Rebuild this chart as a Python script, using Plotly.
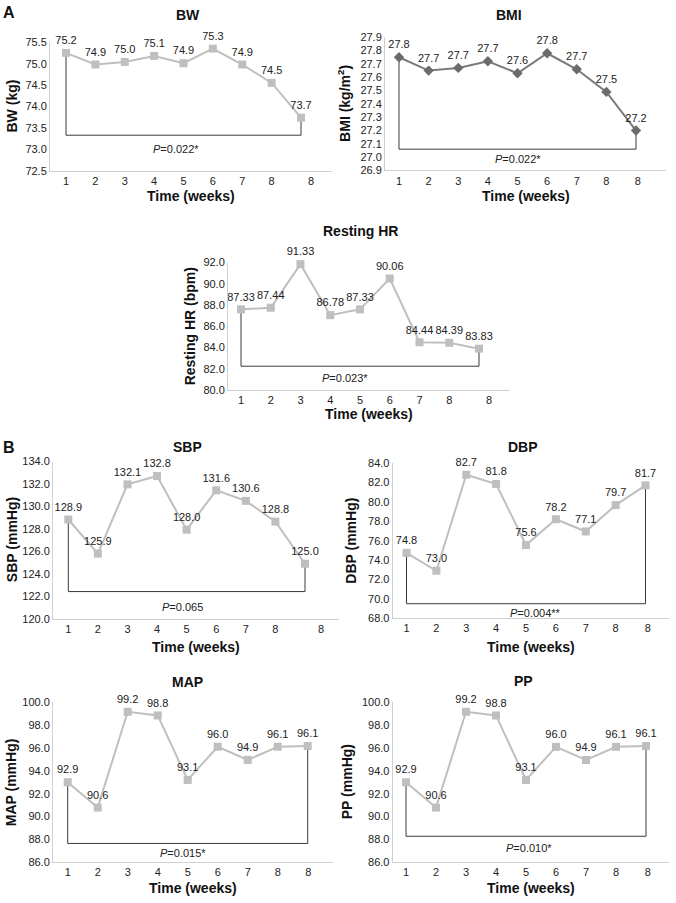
import plotly.graph_objects as go

W, H = 676, 903
FONT = "Liberation Sans, Arial, sans-serif"

# ---------------- data ----------------
weeks = ["1", "2", "3", "4", "5", "6", "7", "8", "8"]

bw_values = [75.25, 74.98, 75.04, 75.18, 75.01, 75.35, 74.98, 74.55, 73.74]
bw_labels = ["75.2", "74.9", "75.0", "75.1", "74.9", "75.3", "74.9", "74.5", "73.7"]

bmi_values = [27.75, 27.65, 27.67, 27.72, 27.63, 27.78, 27.66, 27.49, 27.20]
bmi_labels = ["27.8", "27.7", "27.7", "27.7", "27.6", "27.8", "27.7", "27.5", "27.2"]

hr_values = [87.6, 87.75, 91.85, 87.05, 87.6, 90.5, 84.5, 84.45, 83.9]
hr_labels = ["87.33", "87.44", "91.33", "86.78", "87.33", "90.06", "84.44", "84.39", "83.83"]

sbp_values = [128.84, 125.8, 131.97, 132.71, 127.93, 131.44, 130.5, 128.65, 124.9]
sbp_labels = ["128.9", "125.9", "132.1", "132.8", "128.0", "131.6", "130.6", "128.8", "125.0"]

dbp_values = [74.75, 72.9, 82.8, 81.85, 75.55, 78.21, 76.95, 79.67, 81.71]
dbp_labels = ["74.8", "73.0", "82.7", "81.8", "75.6", "78.2", "77.1", "79.7", "81.7"]

map_values = [93.0, 90.78, 99.17, 98.85, 93.2, 96.11, 94.96, 96.11, 96.17]
map_labels = ["92.9", "90.6", "99.2", "98.8", "93.1", "96.0", "94.9", "96.1", "96.1"]

pp_values = [93.0, 90.78, 99.17, 98.85, 93.2, 96.1, 94.95, 96.1, 96.17]
pp_labels = ["92.9", "90.6", "99.2", "98.8", "93.1", "96.0", "94.9", "96.1", "96.1"]

p_texts = ["0.022*", "0.022*", "0.023*", "0.065", "0.004**", "0.015*", "0.010*"]
bracket_levels = [73.33, 27.06, 82.25, 122.42, 69.5, 87.64, 88.27]

# ---------------- layout of panels (pixel boxes) ----------------
LIGHT = "#bfbfbf"
panels = [
    dict(title="BW", ytitle="BW (kg)", values=bw_values, labels=bw_labels,
         yr=(72.5, 75.5), dtick=0.5, box=(50, 332, 36.7, 167), p1=66, p9=301, lastt=311,
         titlexy=(188, 9), ytx=12, xtitle_y=193, pshift=(-8, -14),
         msym="square", mcol=LIGHT, lcol=LIGHT, msize=8),
    dict(title="BMI", ytitle="BMI (kg/m<sup>2</sup>)", values=bmi_values, labels=bmi_labels,
         yr=(26.9, 27.9), dtick=0.1, box=(385, 666, 31.7, 166.7), p1=399, p9=636, lastt=637.7,
         titlexy=(509, 9), ytx=344, xtitle_y=193, pshift=(0, -10),
         msym="diamond", mcol="#6b6b6b", lcol="#7a7a7a", msize=8),
    dict(title="Resting HR", ytitle="Resting HR (bpm)", values=hr_values, labels=hr_labels,
         yr=(80, 92), dtick=2, box=(228, 510, 260, 389.3), p1=241, p9=479, lastt=489,
         titlexy=(360, 228), ytx=190, xtitle_y=414, pshift=(-15, -12),
         msym="square", mcol=LIGHT, lcol=LIGHT, msize=8),
    dict(title="SBP", ytitle="SBP (mmHg)", values=sbp_values, labels=sbp_labels,
         yr=(120, 134), dtick=2, box=(53, 339, 461.7, 621), p1=68.3, p9=305, lastt=321,
         titlexy=(187, 447), ytx=12, xtitle_y=650, pshift=(-4, -15),
         msym="square", mcol=LIGHT, lcol=LIGHT, msize=8),
    dict(title="DBP", ytitle="DBP (mmHg)", values=dbp_values, labels=dbp_labels,
         yr=(68, 84), dtick=2, box=(392.7, 669, 463.3, 620.5), p1=406.5, p9=645.5, lastt=647.7,
         titlexy=(523, 447), ytx=351, xtitle_y=650, pshift=(9, -9),
         msym="square", mcol=LIGHT, lcol=LIGHT, msize=8),
    dict(title="MAP", ytitle="MAP (mmHg)", values=map_values, labels=map_labels,
         yr=(86, 100), dtick=2, box=(53, 333, 705.7, 867.7), p1=67.7, p9=307.7, lastt=308.3,
         titlexy=(187, 685), ytx=11, xtitle_y=894, pshift=(-5, -10),
         msym="square", mcol=LIGHT, lcol=LIGHT, msize=8),
    dict(title="PP", ytitle="PP (mmHg)", values=pp_values, labels=pp_labels,
         yr=(86, 100), dtick=2, box=(392.7, 669, 705.7, 867.7), p1=406, p9=646, lastt=647.7,
         titlexy=(523, 684), ytx=347, xtitle_y=894, pshift=(3, -12),
         msym="square", mcol=LIGHT, lcol=LIGHT, msize=8),
]

fig = go.Figure()
annotations = []
layout_axes = {}

for i, p in enumerate(panels):
    k = "" if i == 0 else str(i + 1)
    xa, ya = "x" + k, "y" + k
    left, right, top, bottom = p["box"]
    n = len(p["values"])
    unit = (p["p9"] - p["p1"]) / (n - 1)
    xr = [1 - (p["p1"] - left) / unit, 1 + (right - p["p1"]) / unit]
    xs = list(range(1, n + 1))
    tickvals = xs[:-1] + [1 + (p["lastt"] - p["p1"]) / unit]

    layout_axes["xaxis" + k] = dict(
        domain=[left / W, right / W], anchor=ya, range=xr,
        tickmode="array", tickvals=tickvals, ticktext=weeks,
        showline=True, linecolor="#d0d0d0", linewidth=1, showgrid=False,
        zeroline=False, ticks="", tickfont=dict(size=11, color="#222", family=FONT),
    )
    layout_axes["yaxis" + k] = dict(
        domain=[1 - bottom / H, 1 - top / H], anchor=xa, range=list(p["yr"]),
        tickmode="linear", tick0=p["yr"][0], dtick=p["dtick"], tickformat=".1f",
        showline=True, linecolor="#d0d0d0", linewidth=1, showgrid=False,
        zeroline=False, ticks="", tickfont=dict(size=11, color="#222", family=FONT),
    )

    lvl = bracket_levels[i]
    vals = p["values"]
    # significance bracket
    fig.add_trace(go.Scatter(
        x=[xs[0], xs[0], xs[-1], xs[-1]], y=[vals[0], lvl, lvl, vals[-1]],
        mode="lines", line=dict(color="#3a3a3a", width=1),
        xaxis=xa, yaxis=ya, showlegend=False, hoverinfo="skip",
    ))
    # series
    fig.add_trace(go.Scatter(
        x=xs, y=vals, mode="lines+markers+text", text=p["labels"],
        textposition="top center", textfont=dict(size=11, color="#222", family=FONT),
        line=dict(color=p["lcol"], width=2),
        marker=dict(symbol=p["msym"], size=p["msize"], color=p["mcol"]),
        cliponaxis=False, xaxis=xa, yaxis=ya, showlegend=False,
    ))

    # P value text
    annotations.append(dict(
        x=(xs[0] + xs[-1]) / 2, y=lvl, xref=xa, yref=ya,
        text="<i>P</i>=" + p_texts[i], showarrow=False,
        xshift=p["pshift"][0], yshift=p["pshift"][1],
        font=dict(size=11, color="#222", family=FONT),
    ))
    # panel title
    tx, ty = p["titlexy"]
    annotations.append(dict(
        x=tx / W, y=1 - ty / H, xref="paper", yref="paper", text="<b>" + p["title"] + "</b>",
        showarrow=False, xanchor="center", yanchor="middle",
        font=dict(size=14, color="#111", family=FONT),
    ))
    # x title
    annotations.append(dict(
        x=(left + right) / 2 / W, y=1 - p["xtitle_y"] / H, xref="paper", yref="paper",
        text="<b>Time (weeks)</b>", showarrow=False, xanchor="center", yanchor="middle",
        font=dict(size=14, color="#111", family=FONT),
    ))
    # y title
    annotations.append(dict(
        x=p["ytx"] / W, y=1 - (top + bottom) / 2 / H, xref="paper", yref="paper",
        text="<b>" + p["ytitle"] + "</b>", showarrow=False, textangle=-90,
        xanchor="center", yanchor="middle",
        font=dict(size=14, color="#111", family=FONT),
    ))

for letter, (lx, ly) in [("A", (9, 7)), ("B", (9, 447))]:
    annotations.append(dict(
        x=lx / W, y=1 - ly / H, xref="paper", yref="paper", text="<b>" + letter + "</b>",
        showarrow=False, xanchor="center", yanchor="middle",
        font=dict(size=16, color="#111", family=FONT),
    ))

fig.update_layout(
    width=W, height=H, margin=dict(l=0, r=0, t=0, b=0),
    paper_bgcolor="white", plot_bgcolor="white",
    font=dict(family=FONT), annotations=annotations, **layout_axes,
)

fig.write_html(
    "out.html",
    config={"displayModeBar": False},
    post_script="document.body.style.margin='0px';document.body.style.padding='0px';"
                "document.body.style.overflow='hidden';",
)
